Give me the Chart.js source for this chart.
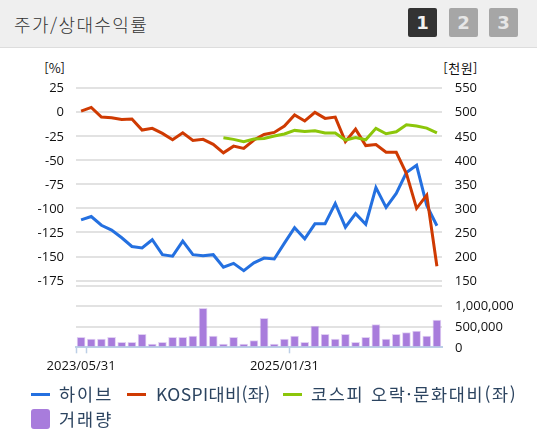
<!DOCTYPE html>
<html lang="ko">
<head>
<meta charset="utf-8">
<script src="https://cdn.jsdelivr.net/npm/chart.js@4"></script>
<style>
  html, body { margin: 0; padding: 0; background: #fff; }
  #page { position: relative; width: 537px; height: 435px; overflow: hidden; font-family: "Noto Sans CJK KR", "Noto Sans", sans-serif; }
  #page canvas { position: absolute; left: 0; top: 0; }
  .header { position: absolute; left: 0; top: 0; width: 537px; height: 47px; background: #efefef; border-bottom: 1px solid #ddd; }
  .title { position: absolute; left: 14px; top: 11px; font-size: 18px; line-height: 26px; font-weight: 300; letter-spacing: 1.4px; color: #333; }
  .btn { position: absolute; top: 8px; width: 29px; height: 29px; border-radius: 2px; background: #a6a6a6; color: #e6e6e6; text-align: center; font: bold 18px/29px "DejaVu Sans", sans-serif; }
  .btn.on { background: #333; color: #f2f2f2; }
  .unit { position: absolute; top: 58px; font-size: 13px; line-height: 20px; color: #111; }
  .legend-item { position: absolute; font-size: 17.5px; line-height: 24px; color: #2c4460; white-space: nowrap; }
  .legend-key { position: absolute; height: 3px; }
  .legend-box { position: absolute; width: 19px; height: 20px; border-radius: 3px; }
</style>
</head>
<body>
<div id="page">
  <div class="header">
    <div class="title">주가/상대수익률</div>
    <div class="btn on" style="left:408px">1</div>
    <div class="btn" style="left:449px">2</div>
    <div class="btn" style="left:489px">3</div>
  </div>
  <div class="unit" style="right:472px">[%]</div>
  <div class="unit" style="right:59px;letter-spacing:0.5px">[천원]</div>
  <canvas id="priceChart" width="537" height="435"></canvas>
  <canvas id="volumeChart" width="537" height="435"></canvas>
  <div id="legend"></div>
</div>
<script>
const dates = [
  '2023/05/31', '2023/06/30', '2023/07/31', '2023/08/31', '2023/09/30', '2023/10/31',
  '2023/11/30', '2023/12/31', '2024/01/31', '2024/02/29', '2024/03/31', '2024/04/30',
  '2024/05/31', '2024/06/30', '2024/07/31', '2024/08/31', '2024/09/30', '2024/10/31',
  '2024/11/30', '2024/12/31', '2025/01/31', '2025/02/28', '2025/03/31', '2025/04/30',
  '2025/05/31', '2025/06/30', '2025/07/31', '2025/08/31', '2025/09/30', '2025/10/31',
  '2025/11/30', '2025/12/31', '2026/01/31', '2026/02/28', '2026/03/31', '2026/04/30',
];
const shownDates = ['2023/05/31', '2025/01/31'];

// the last entry of each tick list is the unlabelled floor of the panel
const percentTicks = [25, 0, -25, -50, -75, -100, -125, -150, -175, -180];
const priceTicks = [550, 500, 450, 400, 350, 300, 250, 200, 150, 140];

const hybePrice = [
  276, 283, 265, 255, 239, 221, 218, 235, 204, 201, 232, 204,
  202, 204, 178, 186, 171, 187, 197, 195, 228, 260, 237, 268,
  268, 310, 261, 289, 267, 343, 302, 331, 374, 389, 306, 264,
];
const kospiRelative = [
  0.7, 4.5, -5.5, -6.2, -7.9, -7.6, -19, -17.2, -22.4, -29, -21.8, -29.7,
  -28.6, -33.8, -42.5, -35.6, -38, -29.3, -23.5, -21.4, -14.8, -3.4, -9.6, -0.7,
  -6.9, -5.5, -31, -18, -35, -34, -42, -42, -64, -100, -86.4, -160,
];
const kospiEntRelative = [
  null, null, null, null, null, null, null, null, null, null, null, null,
  null, null, -27, -28.6, -31, -28.3, -27.6, -25.2, -23, -19.3, -20.4, -19.7,
  -22, -22, -29.3, -26.6, -29, -17.2, -22.8, -20.7, -13.5, -14.8, -16.9, -21.8,
];
const volume = [
  240000, 200000, 200000, 240000, 120000, 120000, 312000, 80000, 120000, 240000, 240000, 272000,
  936000, 272000, 80000, 240000, 80000, 160000, 696000, 80000, 200000, 272000, 120000, 512000,
  312000, 200000, 312000, 120000, 240000, 544000, 200000, 312000, 352000, 392000, 272000, 656000,
];

const BLUE = '#2470e0';
const RED = '#cf3a02';
const GREEN = '#8cc60a';
const PURPLE = '#a87cdc';
const GRID = '#e2e2e2';
const AXIS = '#bccfe6';
const TEXT = '#111';
const FONT = { family: '"Open Sans", "Noto Sans CJK KR", sans-serif', size: 13 };

Chart.defaults.animation = false;
Chart.defaults.responsive = false;
Chart.defaults.plugins.legend.display = false;
Chart.defaults.plugins.tooltip.enabled = false;

const lineStyle = (color, order) => ({
  borderColor: color,
  backgroundColor: color,
  borderWidth: 3,
  pointRadius: 0,
  tension: 0,
  order,
});

const useTicks = list => scale => {
  scale.ticks = list.map(value => ({ value }));
};

new Chart(document.getElementById('priceChart'), {
  type: 'line',
  data: {
    labels: dates,
    datasets: [
      { label: '하이브', data: hybePrice, yAxisID: 'right', ...lineStyle(BLUE, 3) },
      { label: 'KOSPI대비(좌)', data: kospiRelative, yAxisID: 'left', ...lineStyle(RED, 2) },
      { label: '코스피 오락·문화대비(좌)', data: kospiEntRelative, yAxisID: 'left', ...lineStyle(GREEN, 1) },
    ],
  },
  options: {
    layout: { padding: { top: 87.6, bottom: 149.4, right: 60 } },
    scales: {
      x: { display: false, offset: true },
      left: {
        position: 'left',
        min: -180,
        max: 25,
        afterBuildTicks: useTicks(percentTicks),
        afterFit: scale => { scale.width = 76; },
        border: { display: false },
        grid: { color: GRID, lineWidth: 2, drawTicks: false },
        ticks: {
          padding: 12,
          labelOffset: 1,
          color: TEXT,
          font: FONT,
          callback: value => (value === -180 ? '' : value),
        },
      },
      right: {
        position: 'right',
        min: 140,
        max: 550,
        afterBuildTicks: useTicks(priceTicks),
        afterFit: scale => { scale.width = 35; },
        border: { display: false },
        grid: { display: false, drawTicks: false },
        ticks: {
          crossAlign: 'far',
          labelOffset: 1,
          color: TEXT,
          font: FONT,
          callback: value => (value === 140 ? '' : value),
        },
      },
    },
  },
});

new Chart(document.getElementById('volumeChart'), {
  type: 'bar',
  data: {
    labels: dates,
    datasets: [
      {
        label: '거래량',
        data: volume,
        yAxisID: 'right',
        backgroundColor: PURPLE,
        borderColor: 'rgba(168,124,220,0.35)',
        borderWidth: 1,
        barThickness: 8,
      },
    ],
  },
  options: {
    layout: { padding: { top: 305.7, bottom: 59.7, left: 76 } },
    scales: {
      x: {
        offset: true,
        afterFit: scale => { scale.height = 28; },
        border: { color: AXIS, width: 2 },
        grid: {
          offset: true,
          drawOnChartArea: false,
          tickLength: 6,
          tickWidth: 1.5,
          tickColor: ctx => ([0, 1, 21].includes(ctx.index) ? AXIS : 'transparent'),
        },
        ticks: {
          autoSkip: false,
          maxRotation: 0,
          padding: 5,
          color: TEXT,
          font: FONT,
          callback(value) {
            const label = this.getLabelForValue(value);
            return shownDates.includes(label) ? label : '';
          },
        },
      },
      right: {
        position: 'right',
        min: 0,
        max: 1000000,
        afterFit: scale => { scale.width = 95; },
        border: { display: false },
        grid: {
          color: ctx => (ctx.tick.value === 0 ? 'transparent' : GRID),
          lineWidth: 2,
          drawTicks: false,
        },
        ticks: {
          stepSize: 500000,
          padding: 13,
          labelOffset: 1,
          color: TEXT,
          font: FONT,
          callback: value => value.toLocaleString('en-US'),
        },
      },
    },
  },
});

// legend sits in the page, same places as the reference
const legendLines = [
  { name: '하이브', color: BLUE, keyX: 31, textX: 59, spacing: 2 },
  { name: 'KOSPI대비(좌)', color: RED, keyX: 127, textX: 156, spacing: 0.4 },
  { name: '코스피 오락·문화대비(좌)', color: GREEN, keyX: 283, textX: 311, spacing: 1.7 },
];
const legend = document.getElementById('legend');
legendLines.forEach(({ name, color, keyX, textX, spacing }) => {
  legend.insertAdjacentHTML('beforeend',
    `<div class="legend-key" style="left:${keyX}px;top:393px;width:19px;background:${color}"></div>` +
    `<div class="legend-item" style="left:${textX}px;top:382px;letter-spacing:${spacing}px">${name}</div>`);
});
legend.insertAdjacentHTML('beforeend',
  `<div class="legend-box" style="left:31px;top:409px;background:${PURPLE}"></div>` +
  `<div class="legend-item" style="left:59px;top:407px;letter-spacing:2px">거래량</div>`);
</script>
</body>
</html>
